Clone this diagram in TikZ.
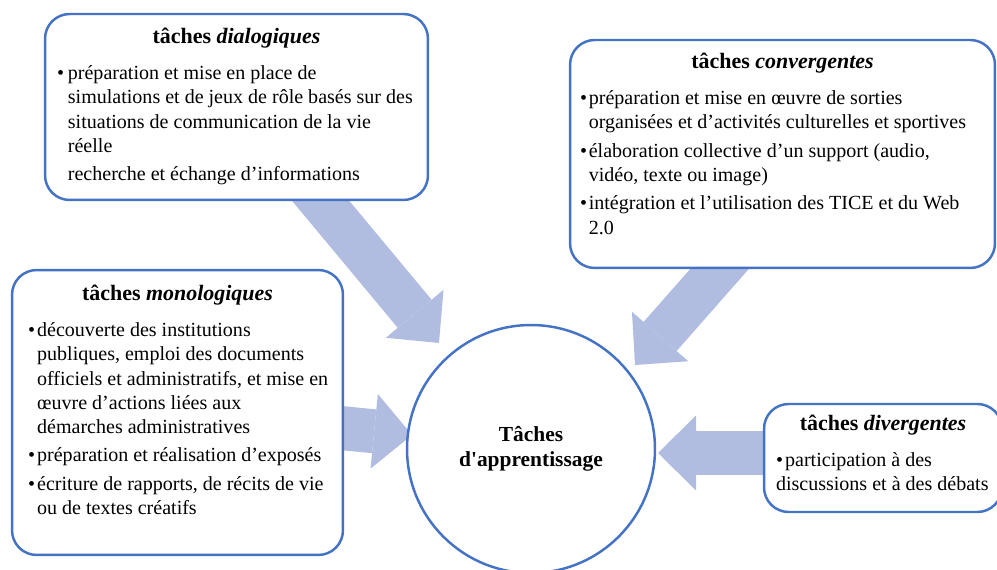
\documentclass[tikz,border=0pt]{standalone}
\usepackage{fontspec}
\setmainfont{Liberation Serif}
\newfontfamily\plainfont[Ligatures=TeXOff]{Liberation Serif}
\usepackage{tikz}
\usetikzlibrary{arrows.meta}
\usetikzlibrary{backgrounds}
\definecolor{boxblue}{RGB}{68,114,196}
\definecolor{arrowblue}{RGB}{176,189,224}
\tikzstyle{every node}=[font=\fontsize{11.4}{13.7}\selectfont]
\tikzstyle{tachebox}=[draw=boxblue,line width=1.4pt,rounded corners=14pt,fill=white,inner sep=0pt]
\tikzstyle{bigarrow}=[draw=arrowblue,line width=0.88cm,-{Triangle[width=1.5cm,length=0.76cm,line width=0pt]}]
\newcommand{\titre}[1]{{\centering\fontsize{12.5}{15}\selectfont\bfseries #1\par}\vspace{4.5pt}\rightskip=0pt plus 1fil minus 2cm}
\newcommand{\rond}{\textbullet}
\newcommand{\puce}[2]{\par\vspace{2.5pt}\hangindent=#1\hangafter=1\noindent\makebox[#1][l]{\rond}#2}
\newcommand{\contenu}[3]{\parbox[c][#2][t]{#1}{#3}}

\begin{document}
\begin{tikzpicture}[x=0.02cm,y=-0.02cm]
\useasboundingbox (0,0) rectangle (997,570);

\node[tachebox,minimum width=7.66cm,minimum height=3.72cm] (dial) at (236.5,107) {\contenu{7.18cm}{3.16cm}{%
 \titre{tâches \textit{dialogiques}}%
 \puce{6.2pt}{préparation et mise en place de\newline simulations et de jeux de rôle basés sur des\newline situations de communication de la vie\newline réelle}%
 \par\vspace{2.5pt}\noindent\hspace*{6.2pt}recherche et échange d’informations}};

\node[tachebox,minimum width=8.5cm,minimum height=4.56cm] (conv) at (782.5,154) {\contenu{8.1cm}{4.04cm}{%
 \titre{tâches \textit{convergentes}}%
 \puce{5pt}{préparation et mise en œuvre de sorties\newline organisées et d’activités culturelles et sportives}%
 \puce{5pt}{élaboration collective d’un support (audio,\newline vidéo, texte ou image)}%
 \puce{5pt}{intégration et l’utilisation des TICE et du Web\newline 2.0}}};

\node[tachebox,minimum width=6.62cm,minimum height=5.7cm] (mono) at (177.5,412.5) {\contenu{5.98cm}{5.1cm}{%
 \titre{tâches \textit{monologiques}}%
 \puce{5.2pt}{découverte des institutions\newline publiques, emploi des documents\newline officiels et administratifs, et mise en\newline œuvre d’actions liées aux\newline démarches administratives}%
 \puce{5.2pt}{préparation et réalisation d’exposés}%
 \puce{5.2pt}{écriture de rapports, de récits de vie\newline ou de textes créatifs}}};

\node[tachebox,minimum width=4.76cm,minimum height=2.16cm] (div) at (883,458) {\contenu{4.28cm}{1.72cm}{%
 \titre{tâches \textit{divergentes}}%
 \par\vspace{2.5pt}\noindent\makebox[5.2pt][l]{\rond}participation à des\newline discussions et à des débats}};

\node[draw=boxblue,line width=1.4pt,circle,minimum size=4.96cm,inner sep=0pt,fill=white,align=center,font=\bfseries\fontsize{12.2}{14.2}\selectfont] (circ) at (531,449) {Tâches\\{\plainfont d'apprentissage}};

% fleches
\coordinate (dial-a) at (300,176);
\coordinate (dial-b) at (439,343);
\coordinate (conv-a) at (745,240);
\coordinate (conv-b) at (635,365);
\coordinate (mono-a) at (320,426);
\coordinate (mono-b) at (412,435);
\coordinate (div-a) at (800,453);
\coordinate (div-b) at (658,453);

\begin{scope}[on background layer]
\draw[bigarrow] (dial-a) -- (dial-b);
\draw[bigarrow] (conv-a) -- (conv-b);
\draw[bigarrow] (mono-a) -- (mono-b);
\draw[bigarrow] (div-a) -- (div-b);
\end{scope}
\end{tikzpicture}
\end{document}
